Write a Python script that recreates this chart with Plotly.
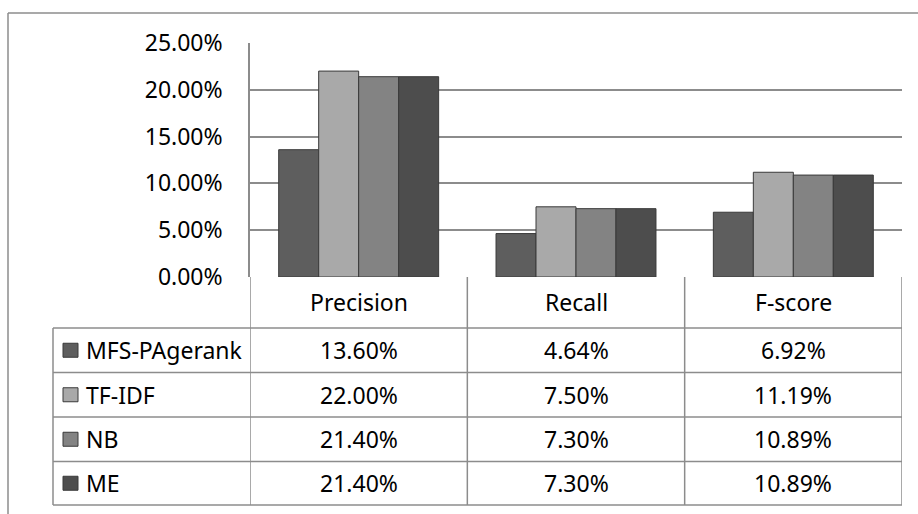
import plotly.graph_objects as go

categories = ["Precision", "Recall", "F-score"]
series_names = ["MFS-PAgerank", "TF-IDF", "NB", "ME"]
mfs_pagerank = [0.136, 0.0464, 0.0692]
tf_idf = [0.22, 0.075, 0.1119]
nb = [0.214, 0.073, 0.1089]
me = [0.214, 0.073, 0.1089]
series_values = [mfs_pagerank, tf_idf, nb, me]
table_labels = [
    ["13.60%", "4.64%", "6.92%"],
    ["22.00%", "7.50%", "11.19%"],
    ["21.40%", "7.30%", "10.89%"],
    ["21.40%", "7.30%", "10.89%"],
]
colors = ["#5e5e5e", "#a9a9a9", "#838383", "#4d4d4d"]

W, H = 918, 514
ML, MR, MT, MB = 250, 16, 43, 237
PW = W - ML - MR
PH = H - MT - MB
FONT = "Noto Sans"
FS = 23
LINE = "#8c8c8c"


def px(x):
    return (x - ML) / PW


def py(y):
    return (H - MB - y) / PH


fig = go.Figure()
for name, vals, col in zip(series_names, series_values, colors):
    fig.add_trace(go.Bar(
        x=categories, y=vals, name=name,
        marker=dict(color=col, line=dict(color="#3a3a3a", width=1)),
        showlegend=False,
    ))

shapes = []
# outer chart border (top and left)
shapes.append(dict(type="line", xref="paper", yref="paper", x0=px(8), x1=px(918),
                   y0=py(13), y1=py(13), line=dict(color=LINE, width=1.5)))
shapes.append(dict(type="line", xref="paper", yref="paper", x0=px(8), x1=px(8),
                   y0=py(13), y1=py(514), line=dict(color=LINE, width=1.5)))

row_edges = [328, 372.5, 417, 461.5, 505]
for ry in row_edges:
    shapes.append(dict(type="line", xref="paper", yref="paper", x0=px(53), x1=px(902),
                       y0=py(ry), y1=py(ry), line=dict(color=LINE, width=1.5)))
shapes.append(dict(type="line", xref="paper", yref="paper", x0=px(53), x1=px(53),
                   y0=py(328), y1=py(505), line=dict(color=LINE, width=1.5)))
for i in range(len(categories) + 1):
    shapes.append(dict(type="line", xref="x", yref="paper", x0=i - 0.5, x1=i - 0.5,
                       y0=py(277), y1=py(505), line=dict(color=LINE, width=1.5)))

txt = dict(family=FONT, size=FS, color="#000")
annotations = []
for i, c in enumerate(categories):
    annotations.append(dict(x=i, y=py(302), xref="x", yref="paper", text=c,
                            xanchor="center", yanchor="middle",
                            showarrow=False, font=txt))

for r, name in enumerate(series_names):
    yc = (row_edges[r] + row_edges[r + 1]) / 2
    annotations.append(dict(x=px(84), y=py(yc), xref="paper", yref="paper", text=name,
                            xanchor="left", yanchor="middle", showarrow=False, font=txt))
    shapes.append(dict(type="rect", xref="paper", yref="paper", x0=px(63), x1=px(78),
                       y0=py(yc - 7), y1=py(yc + 7), fillcolor=colors[r],
                       line=dict(color="#3a3a3a", width=1)))
    for i in range(len(categories)):
        annotations.append(dict(x=i, y=py(yc), xref="x", yref="paper",
                                text=table_labels[r][i], showarrow=False,
                                xanchor="center", yanchor="middle", font=txt))

fig.update_layout(
    width=W, height=H,
    margin=dict(l=ML, r=MR, t=MT, b=MB),
    paper_bgcolor="white", plot_bgcolor="white",
    barmode="group", bargap=0.264, bargroupgap=0,
    shapes=shapes, annotations=annotations,
    xaxis=dict(showticklabels=False, showgrid=False, zeroline=False,
               range=[-0.5, 2.5], fixedrange=True),
    yaxis=dict(range=[0, 0.25], dtick=0.05, tickformat=".2%",
               showgrid=True, gridcolor=LINE, gridwidth=1.5,
               showline=True, linecolor=LINE, linewidth=1.5,
               zeroline=False, ticks="", ticklabelstandoff=21,
               tickfont=txt),
)

fig.write_html("out.html")
